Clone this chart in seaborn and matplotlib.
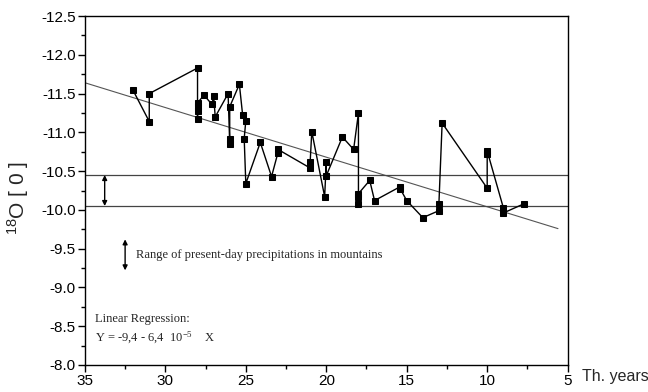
import matplotlib
matplotlib.use("Agg")
import matplotlib.pyplot as plt
import seaborn as sns
import pandas as pd
import numpy as np
from matplotlib.ticker import MultipleLocator, FixedLocator

# ---- data ----
years = [32.0, 31.0, 31.0, 28.0, 28.0, 28.0, 28.0, 28.0, 27.6, 27.1,
         27.0, 26.9, 26.1, 26.0, 26.0, 26.0, 25.4, 25.2, 25.0, 25.1,
         25.0, 24.1, 23.4, 23.0, 23.0, 21.0, 21.0, 20.9, 20.1, 20.0,
         20.0, 19.0, 18.3, 18.0, 18.0, 18.0, 18.0, 17.3, 17.0, 15.4,
         15.4, 15.0, 14.0, 13.0, 13.0, 12.8, 10.0, 10.0, 10.0, 9.0,
         9.0, 7.7]
d18o = [-11.54, -11.14, -11.50, -11.83, -11.17, -11.28, -11.34, -11.38, -11.48, -11.36,
        -11.47, -11.20, -11.50, -10.85, -10.91, -11.33, -11.62, -11.23, -11.15, -10.92,
        -10.34, -10.87, -10.43, -10.74, -10.78, -10.54, -10.62, -11.01, -10.17, -10.62,
        -10.44, -10.94, -10.78, -11.25, -10.07, -10.17, -10.21, -10.38, -10.12, -10.30,
        -10.27, -10.12, -9.90, -9.99, -10.08, -11.12, -10.28, -10.72, -10.76, -10.03,
        -9.96, -10.08]

reg_intercept = -9.4      # per-mil
reg_slope = -0.064        # per thousand years
reg_x_range = [35.0, 5.6]

present_range = [-10.45, -10.05]

x_ticks = [35, 30, 25, 20, 15, 10, 5]
y_ticks = [-12.5, -12.0, -11.5, -11.0, -10.5, -10.0, -9.5, -9.0, -8.5, -8.0]

sns.set_style("ticks")
plt.rcParams["font.family"] = ["Liberation Sans", "DejaVu Sans"]
plt.rcParams["mathtext.fontset"] = "custom"
plt.rcParams["mathtext.rm"] = "Liberation Serif"
plt.rcParams["mathtext.sf"] = "Liberation Sans"
plt.rcParams["mathtext.default"] = "rm"

fig = plt.figure(figsize=(6.48, 3.92), dpi=100)
ax = fig.add_axes([0.131, 0.069, 0.745, 0.890])

df = pd.DataFrame({"year": years, "d18o": d18o})
sns.lineplot(data=df, x="year", y="d18o", sort=False, estimator=None,
             color="black", linewidth=1.0, marker="s", markersize=4.5,
             markeredgecolor="black", markerfacecolor="black", ax=ax)

# regression line
rx = np.array(reg_x_range)
ax.plot(rx, reg_intercept + reg_slope * rx, color="#555555", linewidth=0.8, zorder=1)

# present-day range lines
for yv in present_range:
    ax.axhline(yv, color="#444444", linewidth=0.9, zorder=1)

arrow_kw = dict(arrowstyle="<|-|>", color="black", lw=1.0, mutation_scale=7,
                shrinkA=0, shrinkB=0)
ax.annotate("", xy=(33.77, present_range[0]), xytext=(33.77, present_range[1]),
            arrowprops=arrow_kw)
ax.annotate("", xy=(32.5, -9.62), xytext=(32.5, -9.22), arrowprops=arrow_kw)

ax.text(31.8, -9.42, "Range of present-day precipitations in mountains",
        family="Liberation Serif", fontsize=9, va="center", ha="left")
ax.text(34.35, -8.59, "Linear Regression:", family="Liberation Serif",
        fontsize=9, va="center", ha="left")
ax.text(34.35, -8.35, r"Y = -9,4 - 6,4  10$^{-5}$    X", family="Liberation Serif",
        fontsize=9, va="center", ha="left")

ax.set_xlim(35, 5)
ax.set_ylim(-8.0, -12.5)
ax.xaxis.set_major_locator(FixedLocator(x_ticks))
ax.yaxis.set_major_locator(FixedLocator(y_ticks))
ax.xaxis.set_minor_locator(MultipleLocator(2.5))
ax.yaxis.set_minor_locator(MultipleLocator(0.25))
ax.set_xticklabels([str(t) for t in x_ticks])
ax.set_yticklabels([f"{t:.1f}" for t in y_ticks])
ax.tick_params(axis="both", which="major", direction="out", length=5, width=1,
               labelsize=11, color="black", labelcolor="black", pad=1.5)
ax.tick_params(axis="both", which="minor", direction="out", length=3, width=1,
               color="black")

for s in ax.spines.values():
    s.set_visible(True)
    s.set_color("black")
    s.set_linewidth(1.0)

ax.set_xlabel("")
ax.set_ylabel(r"$^{\mathsf{18}}$O [ 0 ]", fontsize=15)
ax.yaxis.set_label_coords(-0.112, 0.48)

ax.text(1.03, -0.012, "Th. years", transform=ax.transAxes, fontsize=11.5,
        va="top", ha="left")

fig.savefig("out.png", dpi=100)
